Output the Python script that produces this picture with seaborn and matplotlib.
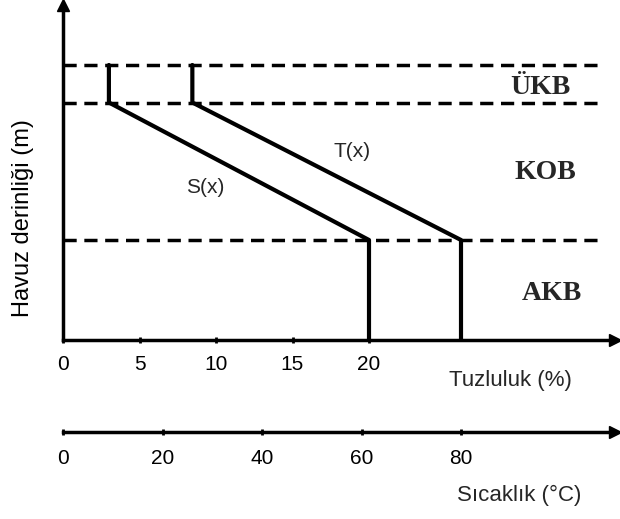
import matplotlib

matplotlib.use("Agg")

import matplotlib.pyplot as plt
import matplotlib.transforms as mtransforms
import pandas as pd
import seaborn as sns

# depth of layer boundaries (surface, UKB/KOB, KOB/AKB, bottom)
DEPTH = [0.0, 0.3, 1.4, 2.2]
SALINITY = [3, 3, 20, 20]          # %
TEMPERATURE = [26, 26, 80, 80]     # deg C
BOUNDARIES = [0.0, 0.3, 1.4]
SAL_TICKS = [0, 5, 10, 15, 20]
TEMP_TICKS = [0, 20, 40, 60, 80]
LAYERS = ["ÜKB", "KOB", "AKB"]
LAYER_DEPTH = [0.184, 0.86, 1.824]
LAYER_X = [0.864, 0.873, 0.885]

sns.set_theme(style="white")
plt.rcParams["font.family"] = ["Liberation Sans", "DejaVu Sans"]

profile = pd.DataFrame({"depth": DEPTH, "salinity": SALINITY, "temperature": TEMPERATURE})

fig = plt.figure(figsize=(6.2, 5.19), dpi=100)
ax = fig.add_axes([63 / 620, 1 - 340 / 519, 552 / 620, 335 / 519])

sns.lineplot(data=profile, x="salinity", y="depth", sort=False, estimator=None,
             color="black", lw=3, ax=ax)
ax.set_xlim(0, 552 / 15.3)
ax.set_ylim(2.2, -0.48)

for b in BOUNDARIES:
    ax.axhline(b, xmin=0, xmax=0.975, color="black", lw=2.5, ls=(0, (3.8, 2.2)))

ax2 = ax.twiny()
sns.lineplot(data=profile, x="temperature", y="depth", sort=False, estimator=None,
             color="black", lw=3, ax=ax2)
ax2.set_xlim(0, 552 / 4.975)
ax2.set_ylim(2.2, -0.48)

for a in (ax, ax2):
    for side in ("top", "right"):
        a.spines[side].set_visible(False)
    a.set_xlabel("")
    a.set_ylabel("")
ax2.spines["left"].set_visible(False)

ax.spines["left"].set_linewidth(2.5)
ax.spines["bottom"].set_linewidth(2.5)
ax.spines["left"].set_color("black")
ax.spines["bottom"].set_color("black")
ax.set_yticks([])
ax.set_xticks(SAL_TICKS)
ax.tick_params(axis="x", bottom=True, direction="inout", length=4, width=2,
               pad=9, labelsize=15, colors="black")

ax2.xaxis.set_ticks_position("bottom")
ax2.xaxis.set_label_position("bottom")
ax2.spines["bottom"].set_position(("outward", 92 * 0.72))
ax2.spines["bottom"].set_visible(True)
ax2.spines["bottom"].set_linewidth(2.5)
ax2.spines["bottom"].set_color("black")
ax2.set_xticks(TEMP_TICKS)
ax2.tick_params(axis="x", bottom=True, top=False, direction="inout", length=4, width=2,
                pad=10, labelsize=15, colors="black")

# arrow heads
ax.plot(0, 1, "^", color="black", ms=9, transform=ax.transAxes, clip_on=False)
ax.plot(1, 0, ">", color="black", ms=9, transform=ax.transAxes, clip_on=False)
shifted = mtransforms.offset_copy(ax2.transAxes, fig=fig, y=-92 * 0.72, units="points")
ax2.plot(1, 0, ">", color="black", ms=9, transform=shifted, clip_on=False)

for name, d, xf in zip(LAYERS, LAYER_DEPTH, LAYER_X):
    ax.text(xf, d, name, transform=ax.get_yaxis_transform(), ha="center", va="center",
            fontsize=20, fontweight="bold", family=["Liberation Serif", "DejaVu Serif"])

ax.text(18.9, 0.69, "T(x)", ha="center", va="center", fontsize=15)
ax.text(9.3, 0.98, "S(x)", ha="center", va="center", fontsize=15)

ax.text(0.81, -0.12, "Tuzluluk (%)", transform=ax.transAxes, ha="center", va="center",
        fontsize=16)
ax.text(0.826, -0.465, "Sıcaklık (°C)", transform=ax.transAxes, ha="center", va="center",
        fontsize=16)
ax.set_ylabel("Havuz derinliği (m)", fontsize=17, color="black")
ax.yaxis.set_label_coords(-0.052, 0.364)

fig.savefig("out.png", dpi=100)
